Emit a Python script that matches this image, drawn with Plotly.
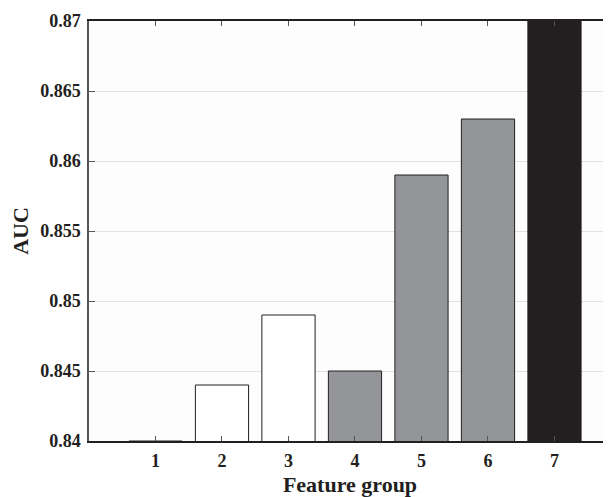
import plotly.graph_objects as go

groups = [1, 2, 3, 4, 5, 6, 7]
auc = [0.840, 0.844, 0.849, 0.845, 0.859, 0.863, 0.871]
bar_colors = ["#ffffff", "#ffffff", "#ffffff", "#939598", "#939598", "#939598", "#231f20"]
y_ticks = [0.84, 0.845, 0.85, 0.855, 0.86, 0.865, 0.87]
y_tick_text = ["0.84", "0.845", "0.85", "0.855", "0.86", "0.865", "0.87"]

font = dict(family="Liberation Serif, Times New Roman, serif", size=18, color="#231f20")

fig = go.Figure(go.Bar(
    x=groups, y=auc, width=0.8,
    marker=dict(color=bar_colors, line=dict(color="#231f20", width=1)),
))

# page body has an 8px default margin, so the figure is 8px smaller
fig.update_layout(
    width=603, height=489,
    margin=dict(l=81, r=0, t=13, b=56),
    paper_bgcolor="white", plot_bgcolor="#fdfdfd",
    font=font, showlegend=False,
    xaxis=dict(range=[0, 7.85], tickvals=groups, ticktext=["<b>%d</b>" % g for g in groups],
               ticks="inside", ticklen=5, tickcolor="#555", ticklabelstandoff=3,
               showline=True, linecolor="#231f20", linewidth=1.5,
               mirror="ticks", showgrid=False, zeroline=False,
               title=dict(text="<b>Feature group</b>", standoff=6)),
    yaxis=dict(range=[0.84, 0.87], tickvals=y_ticks, ticktext=["<b>%s</b>" % t for t in y_tick_text],
               ticks="inside", ticklen=6, tickcolor="#555", ticklabelstandoff=3,
               showline=True, linecolor="#555", linewidth=1.5, showgrid=True, gridcolor="#e2e2e2",
               zeroline=False, title=dict(text="<b>AUC</b>", standoff=6)),
)
fig.write_html("out.html")
